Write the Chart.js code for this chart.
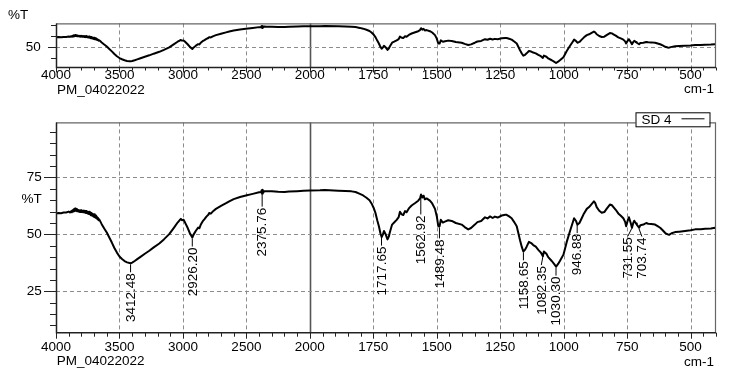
<!DOCTYPE html>
<html><head><meta charset="utf-8">
<script src="https://cdn.jsdelivr.net/npm/chart.js@4/dist/chart.umd.min.js"></script>
<style>
html,body{margin:0;padding:0;background:#fff;}
#wrap{position:relative;width:743px;height:385px;background:#fff;overflow:hidden}
canvas{position:absolute;left:0}
</style></head><body>
<div id="wrap">
<canvas id="topChart" width="743" height="100" style="top:0px"></canvas>
<canvas id="botChart" width="743" height="285" style="top:100px"></canvas>
</div>
<script>
// ---- data ----
const wavenumbers = [4000,3980,3960,3940,3920,3900,3890,3880,3875,3870,3865,3860,3855,3850,3845,3840,3835,3830,3825,3820,3815,3810,3805,3800,3795,3790,3785,3780,3775,3770,3765,3760,3755,3750,3745,3740,3735,3730,3725,3720,3715,3710,3705,3700,3695,3690,3685,3680,3675,3670,3665,3660,3650,3640,3620,3600,3580,3560,3540,3520,3500,3480,3460,3440,3420,3412,3400,3380,3360,3340,3300,3265,3230,3186,3150,3108,3070,3042,3025,3016,3008,2995,2985,2963,2945,2926,2915,2898,2880,2870,2860,2845,2830,2815,2800,2793,2780,2760,2740,2700,2660,2635,2600,2550,2504,2450,2400,2385,2380,2376,2372,2366,2360,2340,2300,2250,2200,2163,2100,2050,2000,1960,1941,1888,1860,1836,1820,1803,1790,1777,1765,1757,1748,1741,1734,1728,1722,1717,1712,1708,1702,1694,1689,1685,1676,1668,1658,1650,1645,1638,1632,1625,1619,1610,1599,1585,1573,1566,1562,1557,1552,1547,1540,1527,1518,1507,1500,1494,1489,1484,1476,1468,1455,1441,1425,1402,1390,1376,1365,1350,1340,1325,1310,1300,1290,1280,1271,1260,1244,1230,1225,1215,1205,1195,1185,1172,1165,1159,1152,1146,1137,1128,1120,1110,1100,1090,1082,1078,1068,1061,1047,1038,1030,1022,1015,1001,988,975,965,959,952,946,938,929,920,909,900,890,881,876,870,860,850,840,831,818,810,804,795,785,775,765,758,754,748,743,736,731,726,722,715,712,703,698,686,675,667,655,640,630,620,610,600,590,585,575,561,545,522,500,482,460,443,420,404,400];
const transmittance = [59.2,59.4,59.3,59.6,59.6,60.0,59.6,60.2,59.7,60.6,60.0,61.0,60.2,61.4,60.4,61.1,60.2,60.8,60.1,60.7,59.9,60.5,59.8,60.6,59.8,60.4,59.7,60.5,59.6,60.2,59.4,60.3,59.3,59.9,59.0,59.9,58.8,59.5,58.4,59.4,58.2,59.0,57.8,58.8,57.5,58.3,57.2,57.9,56.8,57.3,56.2,56.6,55.6,54.5,52.6,50.8,48.6,46.4,44.0,42.0,40.3,39.2,38.3,37.7,37.4,37.3,37.6,38.3,39.1,39.9,41.5,42.8,44.3,46.0,47.8,50.1,53.0,55.2,56.3,56.8,56.2,56.4,55.4,52.9,50.5,48.6,50.0,51.6,53.0,52.7,54.2,55.7,56.7,57.8,58.6,59.4,59.1,60.3,61.2,62.5,63.7,64.5,65.5,66.4,67.1,67.8,68.5,68.5,69.4,67.8,69.6,68.4,69.0,68.9,68.9,68.7,68.6,68.8,69.0,69.2,69.3,69.4,69.5,69.2,69.1,68.9,68.6,67.8,67.1,66.1,65.0,63.6,61.5,59.2,56.0,53.6,50.5,48.8,50.0,51.5,50.2,47.8,49.0,50.8,54.3,55.2,56.4,57.6,59.9,58.8,58.5,60.2,59.7,61.4,62.7,63.8,64.8,65.8,67.5,66.2,67.0,65.4,65.8,64.8,63.6,61.2,58.0,53.6,53.5,56.4,55.2,55.6,56.2,55.9,55.0,54.3,53.2,52.2,52.8,54.3,55.4,55.9,57.5,57.0,57.9,57.2,57.8,57.4,58.3,58.6,58.6,57.9,57.1,55.4,53.6,47.4,44.5,42.5,43.3,44.6,46.7,46.2,45.3,44.6,43.2,42.0,40.4,42.5,41.5,40.0,38.3,37.0,35.8,37.0,38.3,41.1,46.7,51.5,55.0,57.1,56.0,54.3,55.0,57.1,59.2,61.2,62.0,63.3,64.5,63.8,62.0,60.4,59.5,59.8,61.2,63.1,62.8,62.0,60.8,59.2,58.2,57.1,55.5,53.6,56.0,57.5,55.0,52.9,55.0,56.0,54.8,54.3,52.9,54.0,54.3,55.0,54.7,54.6,54.3,53.6,52.9,51.8,50.6,50.0,49.8,50.5,51.0,51.2,51.5,51.8,52.2,52.3,52.5,52.6,52.9,52.8];
const peakLabels = [3412.48,2926.20,2375.76,1717.65,1562.92,1489.48,1158.65,1082.35,1030.30,946.88,731.55,703.74];
const xTickLabels = [4000,3500,3000,2500,2000,1750,1500,1250,1000,750,500];
const yTicksBottom = [25,50,75];
const yTicksTop = [50];
const seriesName = 'SD 4';
const sampleName = 'PM_04022022';
const xUnit = 'cm-1';
const yUnit = '%T';

// ---- styling / layout ----
const FONT = '"Liberation Sans", Arial, Helvetica, sans-serif';
const FS = 13.5;
const labelStyle = {'1562.92':{gap:20},'2375.76':{gap:14},'1489.48':{gap:13},'1082.35':{dx:-1.5},'731.55':{dx:-4},'703.74':{dx:3}};

// piecewise wavenumber axis (scale doubles below 2000 cm-1)
const toU = w => w >= 2000 ? 4000 - w : 2000 + (2000 - w) * 2;
const fromU = u => u <= 2000 ? 4000 - u : 2000 - (u - 2000) / 2;
const points = wavenumbers.map((w,i)=>({x:toU(w), y:transmittance[i]}));
function valueAt(w){
  for(let i=0;i<wavenumbers.length-1;i++){
    const a=wavenumbers[i], b=wavenumbers[i+1];
    if(w<=a && w>=b){const t=(a-w)/(a-b); return transmittance[i]+(transmittance[i+1]-transmittance[i])*t;}
  }
  return transmittance[transmittance.length-1];
}

function framePlugin(cfg){
  return {
    id:'frame'+cfg.name,
    beforeDatasetsDraw(chart){
      const {ctx, chartArea:a, scales:{x,y}} = chart;
      ctx.save();
      xTickLabels.forEach(w=>{
        const u=toU(w); if(u<=0||u>=5200) return;
        const px=Math.round(x.getPixelForValue(u))+0.5;
        ctx.beginPath();
        if(w===2000){ctx.setLineDash([]);ctx.strokeStyle='#555';ctx.lineWidth=1.6;}
        else {ctx.setLineDash([4,3]);ctx.strokeStyle='#8c8c8c';ctx.lineWidth=1;}
        ctx.moveTo(px,a.top);ctx.lineTo(px,a.bottom);ctx.stroke();
      });
      cfg.yTicks.forEach(v=>{
        const py=Math.round(y.getPixelForValue(v))+0.5;
        ctx.beginPath();ctx.setLineDash([4,3]);ctx.strokeStyle='#8c8c8c';ctx.lineWidth=1;
        ctx.moveTo(a.left,py);ctx.lineTo(a.right,py);ctx.stroke();
      });
      ctx.restore();
    },
    afterDatasetsDraw(chart){
      const {ctx, chartArea:a, scales:{x,y}} = chart;
      ctx.save();
      ctx.setLineDash([]);
      ctx.strokeStyle='#666';ctx.lineWidth=1.2;
      ctx.beginPath();ctx.moveTo(a.left,a.top+0.5);ctx.lineTo(a.right-0.5,a.top+0.5);ctx.lineTo(a.right-0.5,a.bottom);ctx.stroke();
      ctx.strokeStyle='#222';ctx.lineWidth=1.5;
      ctx.beginPath();ctx.moveTo(a.left+0.5,a.top);ctx.lineTo(a.left+0.5,a.bottom);ctx.lineTo(a.right,a.bottom);ctx.stroke();
      ctx.lineWidth=1;ctx.strokeStyle='#222';
      for(let u=0;u<=5200;u+=100){
        const px=Math.round(x.getPixelForValue(u))+0.5;
        const major = u%500===0;
        ctx.beginPath();ctx.moveTo(px,a.bottom);ctx.lineTo(px,a.bottom+(major?cfg.xMajor:cfg.xMinor));ctx.stroke();
      }
      for(let v=cfg.yStep*Math.ceil(y.min/cfg.yStep); v<=y.max; v+=cfg.yStep){
        const py=Math.round(y.getPixelForValue(v))+0.5;
        const major = cfg.yTicks.includes(v);
        ctx.beginPath();ctx.moveTo(a.left,py);ctx.lineTo(a.left-(major?cfg.yMajor:cfg.yMinor),py);ctx.stroke();
      }
      ctx.fillStyle='#000';ctx.font=cfg.fs+'px '+FONT;ctx.textBaseline='middle';
      ctx.textAlign='left';ctx.fillText(sampleName,cfg.sampleX,cfg.sampleY);
      ctx.textAlign='right';ctx.fillText(xUnit,cfg.unitX,cfg.unitY);
      ctx.textAlign=cfg.yUnitAlign;ctx.fillText(yUnit,cfg.yUnitX,cfg.yUnitY);
      if(cfg.peaks){
        ctx.font=FS+'px '+FONT;
        peakLabels.forEach(w=>{
          const st=labelStyle[w.toFixed(2)]||{};
          const gap=st.gap||10, dx=st.dx||0;
          const px=x.getPixelForValue(toU(w)), py=y.getPixelForValue(valueAt(w));
          ctx.beginPath();ctx.strokeStyle='#000';ctx.lineWidth=1;
          ctx.moveTo(px,py+1);ctx.lineTo(px+dx,py+gap-1);ctx.stroke();
          ctx.save();ctx.translate(px+dx,py+gap);ctx.rotate(-Math.PI/2);
          ctx.textAlign='right';ctx.textBaseline='middle';ctx.fillText(w.toFixed(2),0,0.5);
          ctx.restore();
        });
      }
      if(cfg.legend){
        const L=cfg.legend;
        ctx.fillStyle='#fff';ctx.fillRect(L.x,L.y,L.w,L.h);
        ctx.strokeStyle='#000';ctx.lineWidth=1;ctx.strokeRect(L.x+0.5,L.y+0.5,L.w,L.h);
        ctx.fillStyle='#000';ctx.font=FS+'px '+FONT;ctx.textAlign='left';ctx.textBaseline='middle';
        ctx.fillText(seriesName,L.x+6,L.y+L.h/2+0.5);
        ctx.beginPath();ctx.moveTo(L.x+46,L.y+6.5);ctx.lineTo(L.x+69,L.y+6.5);ctx.stroke();
      }
      ctx.restore();
    }
  };
}

function makeChart(id,cfg){
  return new Chart(document.getElementById(id),{
    type:'line',
    data:{datasets:[{label:seriesName,data:points,borderColor:'#000',borderWidth:2,pointRadius:0,fill:false,tension:0,borderJoinStyle:'round'}]},
    options:{
      responsive:false,animation:false,events:[],
      layout:{padding:{left:0,right:27,top:cfg.padTop,bottom:0}},
      plugins:{legend:{display:false},tooltip:{enabled:false}},
      scales:{
        x:{type:'linear',min:0,max:5200,grid:{display:false,drawTicks:false},border:{display:false},
          afterBuildTicks:s=>{s.ticks=xTickLabels.map(w=>({value:toU(w)}));},
          afterFit:s=>{s.height=cfg.xh;},
          ticks:{autoSkip:false,maxRotation:0,padding:cfg.xpad,color:'#000',font:{family:FONT,size:FS},
            callback:v=>String(Math.round(fromU(v)))}},
        y:{type:'linear',min:cfg.ymin,max:cfg.ymax,grid:{display:false,drawTicks:false},border:{display:false},
          afterBuildTicks:s=>{s.ticks=cfg.yTicks.map(v=>({value:v}));},
          afterFit:s=>{s.width=56;},
          ticks:{padding:cfg.ypad,color:'#000',font:{family:FONT,size:FS},callback:v=>String(v)}}
      }
    },
    plugins:[framePlugin(cfg)]
  });
}

makeChart('topChart',{name:'T',padTop:20,xh:32.5,xpad:0,ymin:31.7,ymax:71.9,yTicks:yTicksTop,ypad:15.3,
  yStep:10,yMajor:8,yMinor:5,xMajor:5,xMinor:3,fs:FS,
  sampleX:57,sampleY:90.5,unitX:714,unitY:89.5,yUnitX:8,yUnitY:15,yUnitAlign:'left'});
makeChart('botChart',{name:'B',padTop:11,xh:52.3,xpad:6,ymin:6.8,ymax:99.2,yTicks:yTicksBottom,ypad:14.3,
  yStep:5,yMajor:12,yMinor:6,xMajor:6,xMinor:4,fs:FS,
  sampleX:56.7,sampleY:261.5,unitX:714,unitY:262,yUnitX:41.7,yUnitY:99,yUnitAlign:'right',
  peaks:true,legend:{x:635.5,y:12.3,w:74,h:14}});
</script>
</body></html>
